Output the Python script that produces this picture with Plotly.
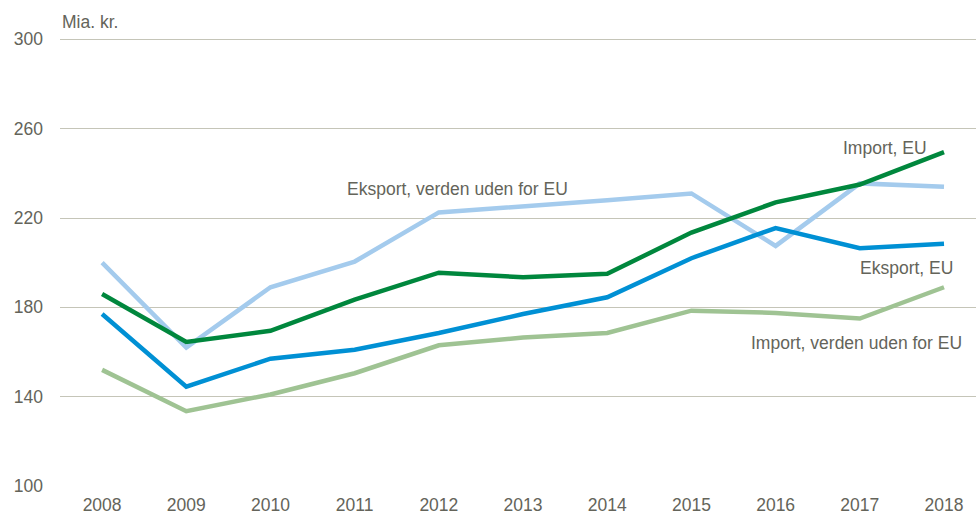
import plotly.graph_objects as go

years = ["2008", "2009", "2010", "2011", "2012", "2013", "2014", "2015", "2016", "2017", "2018"]
eksport_uden_eu = [200, 162, 189, 200.5, 222.5, 225, 228, 231, 207.5, 235.5, 234]
import_eu = [186, 164.5, 169.5, 183.5, 195.5, 193.5, 195, 213.5, 227, 235, 249.5]
eksport_eu = [177, 144.5, 157, 161, 168.5, 177, 184.5, 202, 215.5, 206.5, 208.5]
import_uden_eu = [152, 133.5, 141, 150.5, 163, 166.5, 168.5, 178.5, 177.5, 175, 189]
y_ticks = [100, 140, 180, 220, 260, 300]

FONT = "Liberation Sans, Arial, sans-serif"
TXT = "#64645a"
FS = 17.5

x = list(range(len(years)))
series = [
    ("Eksport, verden uden for EU", eksport_uden_eu, "#a4cbed"),
    ("Import, EU", import_eu, "#00873d"),
    ("Eksport, EU", eksport_eu, "#0090d4"),
    ("Import, verden uden for EU", import_uden_eu, "#9fc393"),
]

fig = go.Figure()
for name, vals, col in series:
    fig.add_trace(go.Scatter(x=x, y=vals, mode="lines", name=name,
                             line=dict(color=col, width=4.5), showlegend=False,
                             hoverinfo="skip"))

anns = [
    ("Eksport, verden uden for EU", 4.22, 233.2, "center"),
    ("Import, EU", 9.3, 251.3, "center"),
    ("Eksport, EU", 9.55, 197.5, "center"),
    ("Import, verden uden for EU", 10.24, 163.9, "right"),
]
for text, ax, ay, align in anns:
    fig.add_annotation(x=ax, y=ay, text=text, showarrow=False, xanchor=align,
                       yanchor="middle", font=dict(family=FONT, size=FS, color=TXT))

fig.add_annotation(x=0, y=300, xref="paper", yref="y", text="Mia. kr.",
                   showarrow=False, xanchor="left", yanchor="bottom", yshift=5,
                   font=dict(family=FONT, size=FS, color=TXT))

fig.update_layout(
    width=976, height=521,
    margin=dict(l=60, r=0, t=36, b=35),
    paper_bgcolor="white", plot_bgcolor="white",
    font=dict(family=FONT, size=FS, color=TXT),
    xaxis=dict(tickmode="array", tickvals=x, ticktext=years, range=[-0.5, 10.38],
               showgrid=False, zeroline=False, showline=False, ticks="",
               automargin=False, ticklabelstandoff=6),
    yaxis=dict(range=[100, 301.5], tickvals=y_ticks, showgrid=True,
               gridcolor="#c5c5b8", gridwidth=1.3, zeroline=False, showline=False,
               ticks="", ticklabelstandoff=16, automargin=False),
)

fig.write_html("out.html", config={"displayModeBar": False},
               post_script="document.body.style.margin='0';document.body.style.padding='0';")
